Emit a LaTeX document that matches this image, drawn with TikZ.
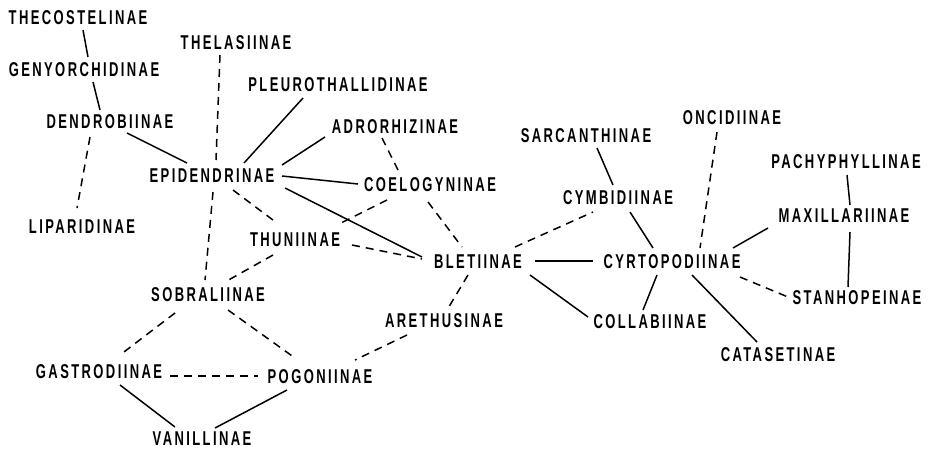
\documentclass[tikz,border=0pt]{standalone}
\usepackage{fontspec}
\setmainfont{Liberation Sans}[FakeStretch=0.65,LetterSpace=12]
\usetikzlibrary{positioning}

\begin{document}
\begin{tikzpicture}[x=1pt, y=-1pt, on grid,
    taxon/.style={font=\fontsize{20}{20}\selectfont\bfseries, inner sep=0pt},
    link/.style={line width=1.5pt},
    weaklink/.style={line width=1.5pt, dash pattern=on 8pt off 6pt}]
    \useasboundingbox (0,0) rectangle (929,451);
% left group
    \node[taxon] (theco) at (78,18) {THECOSTELINAE} ; %
    \node[taxon, below=52pt of theco, xshift=6pt] (genyo) {GENYORCHIDINAE} ; %
    \node[taxon, below=52pt of genyo, xshift=26pt] (dendro) {DENDROBIINAE} ; %
    \node[taxon, below=105pt of dendro, xshift=-28pt] (lipari) {LIPARIDINAE} ; %
    \node[taxon, below right=54pt and 102pt of dendro] (epid) {EPIDENDRINAE} ; %
    \node[taxon, above=133pt of epid, xshift=24pt] (thelas) {THELASIINAE} ; %
    \node[taxon, above right=91pt and 126pt of epid] (pleuro) {PLEUROTHALLIDINAE} ; %
    \node[taxon, above right=49pt and 183pt of epid] (adror) {ADRORHIZINAE} ; %
    \node[taxon, below right=9pt and 218pt of epid] (coelo) {COELOGYNINAE} ; %
    \node[taxon, below right=64pt and 83pt of epid] (thuni) {THUNIINAE} ; %
    \node[taxon, below=119pt of epid, xshift=-4pt] (sobral) {SOBRALIINAE} ; %
    \node[taxon, below left=77pt and 109pt of sobral] (gastro) {GASTRODIINAE} ; %
    \node[taxon, below right=82pt and 112pt of sobral] (pogon) {POGONIINAE} ; %
    \node[taxon, below right=67pt and 103pt of gastro] (vanill) {VANILLINAE} ; %
% middle
    \node[taxon, below right=77pt and 48pt of coelo] (bleti) {BLETIINAE} ; %
    \node[taxon, below left=59pt and 34pt of bleti] (areth) {ARETHUSINAE} ; %
% right group
    \node[taxon, right=194pt of bleti] (cyrto) {CYRTOPODIINAE} ; %
    \node[taxon, above left=64pt and 54pt of cyrto] (cymbi) {CYMBIDIINAE} ; %
    \node[taxon, above left=62pt and 32pt of cymbi] (sarcan) {SARCANTHINAE} ; %
    \node[taxon, below left=60pt and 22pt of cyrto] (collab) {COLLABIINAE} ; %
    \node[taxon, below right=93pt and 106pt of cyrto] (catas) {CATASETINAE} ; %
    \node[taxon, above right=144pt and 60pt of cyrto] (oncid) {ONCIDIINAE} ; %
    \node[taxon, above right=46pt and 172pt of cyrto] (maxill) {MAXILLARIINAE} ; %
    \node[taxon, above=54pt of maxill, xshift=2pt] (pachy) {PACHYPHYLLINAE} ; %
    \node[taxon, below=82pt of maxill, xshift=13pt] (stanho) {STANHOPEINAE} ; %
% solid edges
    \draw[link] ([shift={(5,12)}]theco.center) -- ([shift={(4,-13)}]genyo.center) ; %
    \draw[link] ([shift={(9,12)}]genyo.center) -- ([shift={(-10,-12)}]dendro.center) ; %
    \draw[link] ([shift={(17,11)}]dendro.center) -- ([shift={(-25,-13)}]epid.center) ; %
    \draw[link] ([shift={(32,-13)}]epid.center) -- ([shift={(-35,13)}]pleuro.center) ; %
    \draw[link] ([shift={(70,-11)}]epid.center) -- ([shift={(-70,10)}]adror.center) ; %
    \draw[link] ([shift={(70,0)}]epid.center) -- ([shift={(-72,-1)}]coelo.center) ; %
    \draw[link] ([shift={(73,12)}]epid.center) -- ([shift={(-56,-5)}]bleti.center) ; %
    \draw[link] ([shift={(57,-1)}]bleti.center) -- ([shift={(-79,-1)}]cyrto.center) ; %
    \draw[link] ([shift={(52,13)}]bleti.center) -- ([shift={(-62,-5)}]collab.center) ; %
    \draw[link] ([shift={(12,14)}]cymbi.center) -- ([shift={(-19,-14)}]cyrto.center) ; %
    \draw[link] ([shift={(11,12)}]sarcan.center) -- ([shift={(-5,-13)}]cymbi.center) ; %
    \draw[link] ([shift={(-15,13)}]cyrto.center) -- ([shift={(-7,-12)}]collab.center) ; %
    \draw[link] ([shift={(20,13)}]cyrto.center) -- ([shift={(-21,-13)}]catas.center) ; %
    \draw[link] ([shift={(61,-14)}]cyrto.center) -- ([shift={(-76,12)}]maxill.center) ; %
    \draw[link] ([shift={(1,13)}]pachy.center) -- ([shift={(6,-11)}]maxill.center) ; %
    \draw[link] ([shift={(6,16)}]maxill.center) -- ([shift={(-9,-11)}]stanho.center) ; %
    \draw[link] ([shift={(21,13)}]gastro.center) -- ([shift={(-27,-12)}]vanill.center) ; %
    \draw[link] ([shift={(-33,13)}]pogon.center) -- ([shift={(13,-11)}]vanill.center) ; %
% dashed edges
    \draw[weaklink] ([shift={(-16,12)}]thelas.center) -- ([shift={(4,-16)}]epid.center) ; %
    \draw[weaklink] ([shift={(-20,15)}]dendro.center) -- ([shift={(-5,-19)}]lipari.center) ; %
    \draw[weaklink] ([shift={(1,16)}]epid.center) -- ([shift={(-3,-15)}]sobral.center) ; %
    \draw[weaklink] ([shift={(21,14)}]epid.center) -- ([shift={(-18,-17)}]thuni.center) ; %
    \draw[weaklink] ([shift={(-13,11)}]adror.center) -- ([shift={(-32,-15)}]coelo.center) ; %
    \draw[weaklink] ([shift={(-2,17)}]coelo.center) -- ([shift={(-16,-15)}]bleti.center) ; %
    \draw[weaklink] ([shift={(-43,15)}]coelo.center) -- ([shift={(42,-15)}]thuni.center) ; %
    \draw[weaklink] ([shift={(-22,15)}]thuni.center) -- ([shift={(17,-13)}]sobral.center) ; %
    \draw[weaklink] ([shift={(57,5)}]thuni.center) -- ([shift={(-56,-3)}]bleti.center) ; %
    \draw[weaklink] ([shift={(37,-15)}]bleti.center) -- ([shift={(-25,14)}]cymbi.center) ; %
    \draw[weaklink] ([shift={(-10,13)}]bleti.center) -- ([shift={(3,-11)}]areth.center) ; %
    \draw[weaklink] ([shift={(-37,14)}]areth.center) -- ([shift={(35,-17)}]pogon.center) ; %
    \draw[weaklink] ([shift={(-33,18)}]sobral.center) -- ([shift={(21,-17)}]gastro.center) ; %
    \draw[weaklink] ([shift={(20,15)}]sobral.center) -- ([shift={(-25,-19)}]pogon.center) ; %
    \draw[weaklink] ([shift={(71,4)}]gastro.center) -- ([shift={(-62,-1)}]pogon.center) ; %
    \draw[weaklink] ([shift={(-15,14)}]oncid.center) -- ([shift={(28,-14)}]cyrto.center) ; %
    \draw[weaklink] ([shift={(68,15)}]cyrto.center) -- ([shift={(-69,-1)}]stanho.center) ; %
\end{tikzpicture}
\end{document}
